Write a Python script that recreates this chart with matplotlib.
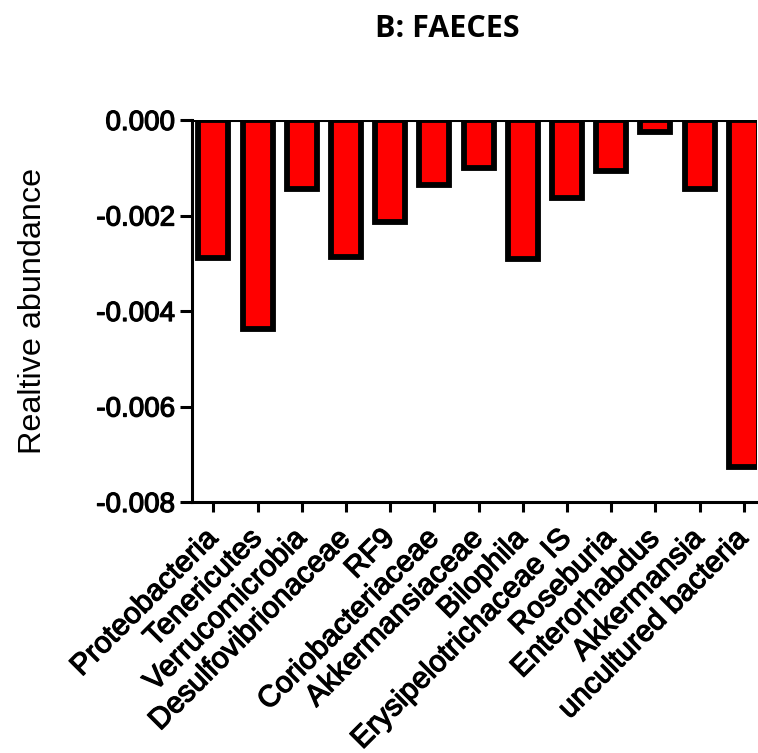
import matplotlib
matplotlib.use('Agg')
import matplotlib.pyplot as plt
import matplotlib.patheffects as pe
import numpy as np

taxa = ['Proteobacteria', 'Tenericutes', 'Verrucomicrobia', 'Desulfovibrionaceae',
        'RF9', 'Coriobacteriaceae', 'Akkermansiaceae', 'Bilophila',
        'Erysipelotrichaceae IS', 'Roseburia', 'Enterorhabdus', 'Akkermansia',
        'uncultured bacteria']
abundance = [-0.00288, -0.00438, -0.00144, -0.00286, -0.00214, -0.00136, -0.00101,
             -0.00292, -0.00163, -0.00107, -0.00025, -0.00145, -0.00726]
yticks = [0.0, -0.002, -0.004, -0.006, -0.008]

plt.rcParams['font.family'] = ['Liberation Sans', 'DejaVu Sans']

fig = plt.figure(figsize=(7.58, 7.53), dpi=100)
ax = fig.add_axes([0.253, 0.3333, 0.7457, 0.5073])

x = np.arange(len(taxa))
ax.bar(x, abundance, width=0.68, color='#ff0000', edgecolor='black', linewidth=4.2)
ax.axhline(0, color='black', linewidth=2.2)

# slightly heavier than regular, like the original
heavy = [pe.withStroke(linewidth=0.9, foreground='black')]

ax.set_xlim(-0.49, 12.3)
ax.set_ylim(-0.008, 0)
ax.set_yticks(yticks)
ax.set_yticklabels(['%.3f' % v for v in yticks], fontsize=20)
ax.set_xticks(x)
ax.set_xticklabels(taxa, rotation=45, ha='right', va='center', rotation_mode='anchor',
                   fontsize=21.5)
for t in ax.get_xticklabels() + ax.get_yticklabels():
    t.set_path_effects(heavy)

for s in ['top', 'right']:
    ax.spines[s].set_visible(False)
for s in ['left', 'bottom']:
    ax.spines[s].set_linewidth(2.2)
ax.tick_params(axis='both', direction='out', width=2.2)
ax.tick_params(axis='y', length=9, pad=3)
ax.tick_params(axis='x', length=7, pad=16)

ax.set_ylabel('Realtive abundance', fontsize=23.3)
ax.yaxis.set_label_coords(-0.255, 0.5)

fig.text(0.59, 0.962, 'B: FAECES', ha='center', va='center', fontsize=22,
         fontweight='bold', family=['Open Sans', 'DejaVu Sans'])

fig.savefig('out.png', dpi=100)
